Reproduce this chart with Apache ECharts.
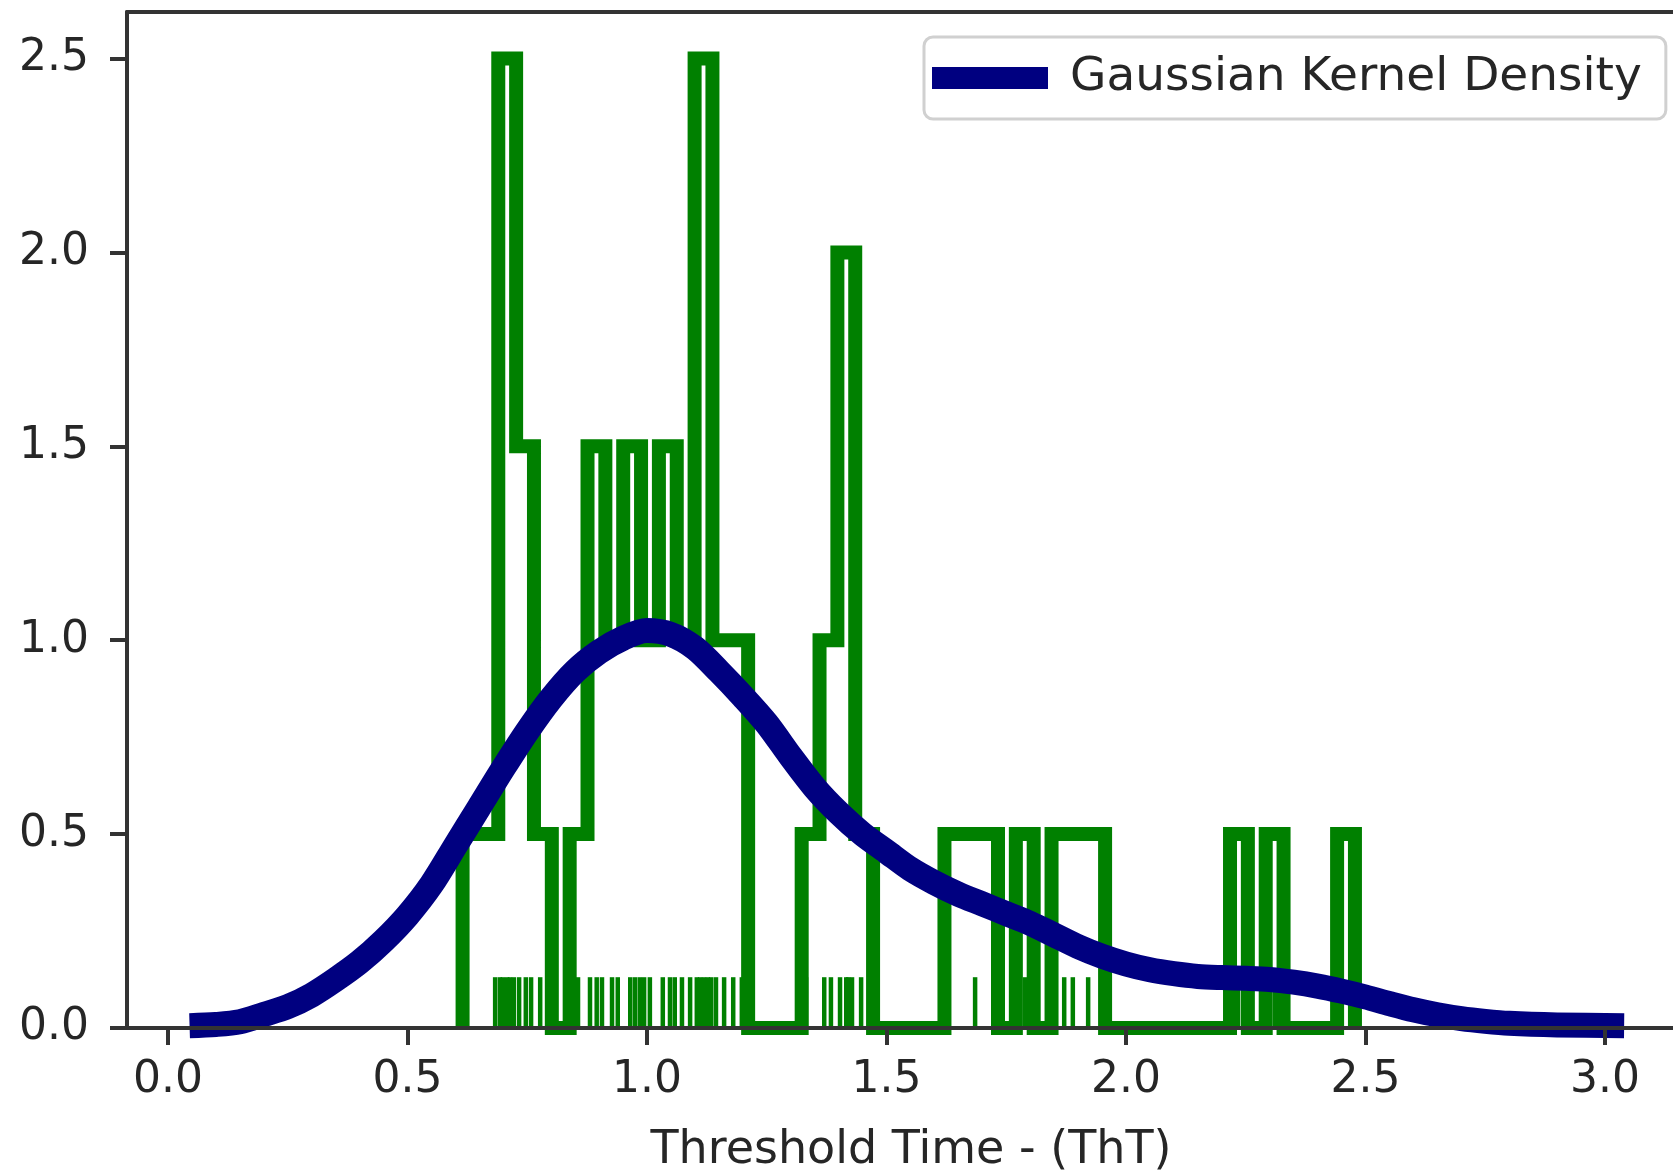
<!DOCTYPE html>
<html><head><meta charset="utf-8">
<script src="https://cdn.jsdelivr.net/npm/echarts@6/dist/echarts.min.js"></script>
<style>html,body{margin:0;padding:0;background:#fff}#c{width:1673px;height:1175px}</style>
</head><body><div id="c"></div>
<script>
// ---- data ----
const histStart = 0.615;
const histEnd = 2.478;
const histDensity = [0.5,0.5,2.5,1.5,0.5,0,0.5,1.5,1.0,1.5,
                     1.0,1.5,1.0,2.5,1.0,1.0,0,0,0,0.5,
                     1.0,2.0,0.5,0,0,0,0,0.5,0.5,0.5,
                     0,0.5,0,0.5,0.5,0.5,0,0,0,0,
                     0,0,0,0.5,0,0.5,0,0,0,0.5];
const rugValues = [0.615,0.683,0.693,0.699,0.708,0.714,0.722,0.733,0.747,0.758,
                   0.777,0.856,0.881,0.895,0.906,0.927,0.939,0.965,0.975,0.985,
                   0.994,1.006,1.033,1.048,1.058,1.073,1.090,1.104,1.111,1.119,
                   1.127,1.134,1.144,1.161,1.180,1.198,1.332,1.370,1.384,1.403,
                   1.416,1.420,1.428,1.447,1.628,1.685,1.724,1.789,1.871,1.889,
                   1.921,2.234,2.311,2.478];
const kdeX = [0.045,0.10,0.15,0.20,0.25,0.30,0.35,0.40,0.45,0.50,
              0.55,0.60,0.65,0.70,0.75,0.80,0.85,0.90,0.95,1.00,
              1.05,1.10,1.15,1.20,1.25,1.30,1.35,1.40,1.45,1.50,
              1.55,1.60,1.65,1.70,1.75,1.80,1.85,1.90,1.95,2.00,
              2.05,2.10,2.15,2.20,2.25,2.30,2.35,2.40,2.45,2.50,
              2.55,2.60,2.65,2.70,2.75,2.80,2.90,3.04];
const kdeY = [0.006,0.009,0.016,0.035,0.055,0.085,0.125,0.17,0.225,0.29,
              0.37,0.47,0.57,0.67,0.765,0.85,0.92,0.97,1.005,1.025,
              1.015,0.98,0.92,0.855,0.785,0.70,0.62,0.555,0.50,0.455,
              0.41,0.375,0.345,0.32,0.295,0.27,0.24,0.21,0.185,0.165,
              0.15,0.14,0.133,0.13,0.128,0.125,0.118,0.108,0.095,0.08,
              0.063,0.047,0.034,0.024,0.017,0.012,0.008,0.006];
const xTicks = [0, 0.5, 1.0, 1.5, 2.0, 2.5, 3.0];
const yTicks = [0, 0.5, 1.0, 1.5, 2.0, 2.5];
const legendName = 'Gaussian Kernel Density';
const xTitle = 'Threshold Time - (ThT)';
const rugHeight = 0.131;

// ---- build step outline of histogram ----
const nb = histDensity.length;
const bw = (histEnd - histStart) / nb;
const outline = [[histStart, 0]];
for (let i = 0; i < nb; i++) {
  const a = histStart + i * bw, b = histStart + (i + 1) * bw;
  outline.push([a, histDensity[i]]);
  outline.push([b, histDensity[i]]);
}
outline.push([histEnd, 0]);
const kde = kdeX.map((x, i) => [x, kdeY[i]]);

const FONT = 'DejaVu Sans';
const AX = '#333333';
const TXT = '#262626';
const chart = echarts.init(document.getElementById('c'), null, {renderer: 'canvas'});
chart.setOption({
  animation: false,
  backgroundColor: '#ffffff',
  grid: {left: 127, top: 12, right: 0, bottom: 147, containLabel: false, outerBoundsMode: 'none'},
  legend: {
    data: [{name: legendName, icon: 'rect'}],
    left: 924, top: 37,
    itemWidth: 116, itemHeight: 22,
    padding: [13, 24, 13, 8],
    borderColor: '#d0d0d0', borderWidth: 3, borderRadius: 9,
    backgroundColor: 'rgba(255,255,255,0.8)',
    textStyle: {fontSize: 47, fontFamily: FONT, color: TXT, padding: [0, 0, 0, 17], lineHeight: 56}
  },
  xAxis: [{
    type: 'value', position: 'bottom', min: -0.0856, max: 3.142, z: 5,
    axisLine: {show: true, onZero: false, lineStyle: {color: AX, width: 4}},
    axisTick: {show: true, inside: false, length: 17, customValues: xTicks, lineStyle: {color: AX, width: 4}},
    axisLabel: {show: true, customValues: xTicks, margin: 31, fontSize: 44, fontFamily: FONT, color: TXT,
                formatter: v => Number(v).toFixed(1)},
    splitLine: {show: false},
    name: xTitle, nameLocation: 'middle', nameGap: 100,
    nameTextStyle: {fontSize: 46, fontFamily: FONT, color: TXT, padding: [0, 0, 0, 22]}
  }, {
    type: 'value', position: 'top', min: -0.0856, max: 3.142, z: 5,
    axisLine: {show: true, onZero: false, lineStyle: {color: AX, width: 4}},
    axisTick: {show: false}, axisLabel: {show: false}, splitLine: {show: false}
  }],
  yAxis: {
    type: 'value', min: 0, max: 2.62, z: 5,
    axisLine: {show: true, onZero: false, lineStyle: {color: AX, width: 4}},
    axisTick: {show: true, inside: false, length: 17, customValues: yTicks, lineStyle: {color: AX, width: 4}},
    axisLabel: {show: true, customValues: yTicks, margin: 38, fontSize: 44, fontFamily: FONT, color: TXT,
                formatter: v => Number(v).toFixed(1)},
    splitLine: {show: false}
  },
  series: [{
    name: 'hist', type: 'line', data: outline, showSymbol: false, symbol: 'none', z: 2,
    silent: true, clip: true,
    lineStyle: {color: '#008000', width: 14, join: 'miter', cap: 'butt'}
  }, {
    name: 'rug', type: 'custom', z: 2, silent: true, clip: true,
    data: rugValues.map(v => [v, 0]),
    encode: {x: 0, y: 1},
    renderItem: function (params, api) {
      const p0 = api.coord([api.value(0), 0]);
      const p1 = api.coord([api.value(0), rugHeight]);
      return {type: 'line', shape: {x1: p0[0], y1: p0[1], x2: p1[0], y2: p1[1]},
              style: {stroke: '#008000', lineWidth: 4.5}};
    }
  }, {
    name: legendName, type: 'line', data: kde, showSymbol: false, symbol: 'none', z: 3,
    smooth: 0.3, clip: true, color: '#000080',
    itemStyle: {color: '#000080'},
    lineStyle: {color: '#000080', width: 25, cap: 'butt', join: 'round'}
  }]
});
</script></body></html>
